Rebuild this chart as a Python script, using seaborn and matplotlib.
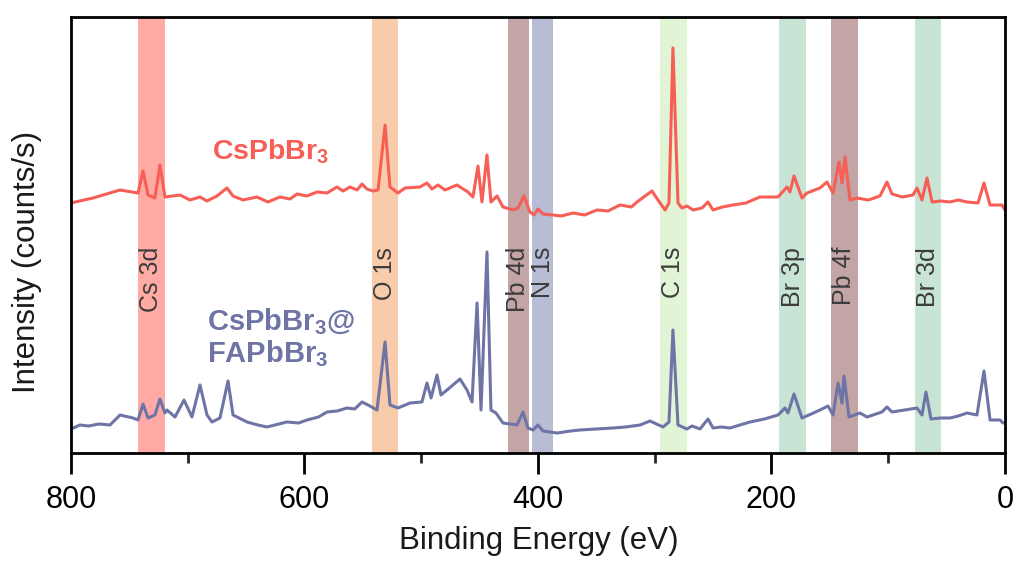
import matplotlib
matplotlib.use("Agg")
import matplotlib.pyplot as plt
import seaborn as sns
import pandas as pd
from matplotlib.ticker import MultipleLocator

# ---------------- data ----------------
# CsPbBr3 (top spectrum): binding energy (eV) and intensity (counts/s, arbitrary offset)
be_top = [800, 781.2, 758.0, 742.6, 738.3, 734.0, 728.1, 723.8, 719.5, 706.6, 698.1, 689.5,
          683.5, 674.9, 666.4, 661.2, 652.7, 640.7, 631.3, 621.0, 612.4, 606.4, 597.9, 589.3,
          580.7, 572.2, 567.0, 561.0, 555.0, 550.7, 546.5, 541.3, 537.0, 531.0,
          526.8, 519.9, 513.9, 501.1, 495.1, 490.8, 485.6, 479.7, 469.4, 460.0, 455.7, 451.4,
          448.0, 443.7, 440.3, 435.1, 430.0, 421.4, 417.1, 412.0, 406.9, 403.4, 400.0, 395.7,
          387.2, 380.0, 370.0, 360.0, 349.5, 340.0, 329.8, 320.0, 315.2, 302.4, 297.2, 291.2,
          287.8, 284.4, 280.1, 276.7,
          272.4, 267.2, 259.5, 254.4, 250.1, 242.0, 233.0, 222.0, 209.9, 194.4, 186.7, 184.2,
          180.7, 173.9, 169.6, 158.5, 152.5, 147.3, 142.2, 139.6, 137.0, 132.8, 126.8, 117.0,
          107.1, 101.1, 96.8, 88.0, 78.8, 75.4, 71.1, 66.8, 62.5, 55.0, 47.1, 40.0, 32.5, 23.1,
          18.0, 12.8, 2.6, 0]
int_top = [250, 255, 263, 260, 282, 258, 255, 288, 256, 258, 253, 256,
           252, 257, 265, 257, 253, 256, 251, 256, 254, 259, 257, 261,
           260, 266, 262, 266, 263, 269, 264, 262, 263, 328,
           266, 260, 265, 266, 270, 264, 268, 263, 268, 261, 256, 287,
           251, 298, 251, 257, 246, 243, 245, 257, 241, 238, 244, 239,
           238, 237, 240, 238, 243, 242, 248, 246, 251, 262, 253, 243,
           250, 405, 250, 245,
           247, 243, 245, 251, 243, 246, 248, 250, 256, 256, 266, 261,
           277, 255, 260, 265, 271, 260, 291, 270, 296, 253, 255, 253,
           257, 271, 259, 256, 258, 265, 253, 275, 251, 252, 251, 253, 251, 250,
           270, 248, 248, 243]

# CsPbBr3@FAPbBr3 (bottom spectrum)
be_bot = [800, 792.3, 785.0, 776.0, 766.6, 758.0, 746.9, 742.6, 738.3, 734.0, 728.1, 723.8,
          719.5, 717.8, 710.9, 703.2, 696.4, 689.5, 683.5, 679.2, 672.4, 665.5, 661.2, 649.2,
          640.0, 632.1, 622.0, 615.0, 605.0, 597.9, 588.0, 580.7, 572.0, 563.6, 557.0, 550.7,
          544.0, 537.9, 531.0, 526.8, 519.9, 509.6, 499.4, 495.1, 491.6,
          486.5, 483.1, 477.9, 466.8, 460.8, 456.5, 452.2, 448.8, 443.7, 440.3, 436.0, 430.0,
          418.0, 412.8, 408.6, 404.3, 400.0, 395.7, 383.7, 372.0, 364.0, 350.0, 335.8, 325.0,
          312.6, 304.1, 292.9,
          287.8, 284.4, 280.1, 272.4, 268.1, 261.2, 254.4, 250.1, 243.0, 235.5, 227.0, 218.4,
          206.0, 194.4, 188.4,
          185.9, 180.7, 173.9, 166.0, 158.5, 151.6, 147.3, 143.0, 139.6, 137.9, 133.6, 124.2,
          118.2, 105.4, 101.1, 96.8, 86.0, 75.4, 71.1, 67.7, 63.4, 55.0, 47.1, 40.0, 32.5,
          24.0, 18.0, 12.8, 4.3, 1.7]
int_bot = [24, 28, 27, 29, 28, 38, 35, 33, 49, 35, 38, 54,
           40, 43, 36, 53, 36, 68, 38, 31, 35, 72, 38, 31,
           28, 26, 29, 31, 30, 33, 36, 41, 42, 45, 44, 51,
           47, 43, 111, 48, 45, 50, 51, 70, 55,
           78, 58, 63, 74, 63, 51, 150, 43, 201, 43, 40, 30,
           28, 41, 25, 23, 28, 22, 20, 22, 23, 24, 25, 26,
           28, 32, 26,
           31, 123, 28, 24, 27, 24, 34, 25, 26, 25, 28, 31,
           34, 38, 45,
           40, 59, 35, 39, 43, 47, 38, 70, 50, 77, 36, 40,
           36, 41, 46, 41, 43, 45, 38, 61, 34, 35, 35, 37, 40,
           38, 82, 33, 33, 30]

# highlighted core levels: label, low eV, high eV, colour
band_labels = ["Cs 3d", "O 1s", "Pb 4d", "N 1s", "C 1s", "Br 3p", "Pb 4f", "Br 3d"]
band_lo = [719.5, 519.5, 407.7, 387.2, 272.4, 170.4, 126.0, 54.8]
band_hi = [742.6, 542.6, 425.7, 405.0, 295.5, 193.6, 149.0, 77.1]
band_colors = ["#FFAAA5", "#F8CCAA", "#C3A5A6", "#B8BCD4", "#E2F4D6", "#C8E4D4", "#C3A5A6", "#C8E4D4"]

xticks_major = [800, 600, 400, 200, 0]

# ---------------- plot ----------------
sns.set_style("ticks")
plt.rcParams["font.family"] = ["Liberation Sans", "DejaVu Sans"]
plt.rcParams["mathtext.fontset"] = "custom"
plt.rcParams["mathtext.rm"] = "Liberation Sans"
plt.rcParams["mathtext.bf"] = "Liberation Sans:bold"

RED = "#F75F56"
BLUE = "#6E75A6"

fig = plt.figure(figsize=(10.17, 5.63), dpi=100)
ax = fig.add_axes([0.0698, 0.1954, 0.9184, 0.7744])

for lab, lo, hi, c in zip(band_labels, band_lo, band_hi, band_colors):
    ax.axvspan(lo, hi, color=c, lw=0, zorder=0)
    ax.text((lo + hi) / 2, 206, lab, rotation=90, ha="center", va="top",
            fontsize=18, color="#3c3c3c", zorder=3)

df_top = pd.DataFrame({"be": be_top, "intensity": int_top})
df_bot = pd.DataFrame({"be": be_bot, "intensity": int_bot})
sns.lineplot(data=df_top, x="be", y="intensity", ax=ax, color=RED, linewidth=2.2,
             estimator=None, zorder=2)
sns.lineplot(data=df_bot, x="be", y="intensity", ax=ax, color=BLUE, linewidth=2.2,
             estimator=None, zorder=2)

ax.text(679, 294, r"CsPbBr$_\mathbf{3}$", color=RED, fontsize=20.5, fontweight="bold",
        ha="left", va="baseline")
ax.text(683.5, 123, r"CsPbBr$_\mathbf{3}$@", color=BLUE, fontsize=21, fontweight="bold",
        ha="left", va="baseline")
ax.text(683.5, 91, r"FAPbBr$_\mathbf{3}$", color=BLUE, fontsize=21, fontweight="bold",
        ha="left", va="baseline")

ax.set_xlim(800, 0)
ax.set_ylim(0, 436)
ax.set_xticks(xticks_major)
ax.xaxis.set_minor_locator(MultipleLocator(100))
ax.set_yticks([])
ax.tick_params(axis="x", which="major", length=15, width=2.0, direction="out",
               labelsize=22, pad=8, colors="black")
ax.tick_params(axis="x", which="minor", length=7, width=2.0, direction="out")
for s in ax.spines.values():
    s.set_linewidth(2.0)
    s.set_color("black")
    s.set_visible(True)

ax.set_xlabel("Binding Energy (eV)", fontsize=22.5, color="#1a1a1a")
ax.set_ylabel("Intensity (counts/s)", fontsize=22.5, color="#1a1a1a")
ax.xaxis.set_label_coords(0.501, -0.168)
ax.yaxis.set_label_coords(-0.031, 0.438)

fig.savefig("out.png", dpi=100)
